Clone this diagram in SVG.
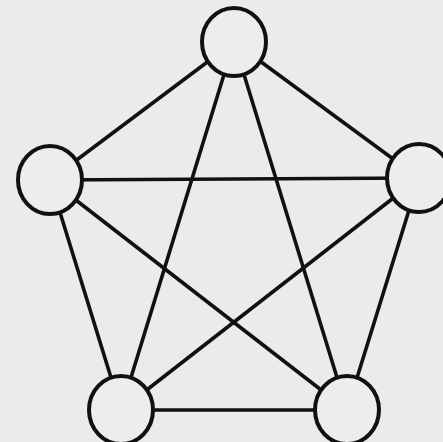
<svg xmlns="http://www.w3.org/2000/svg" width="443" height="442" viewBox="0 0 443 442">
<style>
.edge{stroke:#111;stroke-width:3.6;stroke-linecap:round;fill:none}
.node{fill:#ededeb;stroke:#111;stroke-width:4}
</style>
<rect width="443" height="442" fill="#ebebe9"/>
<g id="connectors">
<line class="edge" x1="234" y1="42" x2="50" y2="180"/>
<line class="edge" x1="234" y1="42" x2="419" y2="178"/>
<line class="edge" x1="234" y1="42" x2="121" y2="410"/>
<line class="edge" x1="234" y1="42" x2="347" y2="410"/>
<line class="edge" x1="50" y1="180" x2="419" y2="178"/>
<line class="edge" x1="50" y1="180" x2="121" y2="410"/>
<line class="edge" x1="50" y1="180" x2="347" y2="410"/>
<line class="edge" x1="419" y1="178" x2="121" y2="410"/>
<line class="edge" x1="419" y1="178" x2="347" y2="410"/>
<line class="edge" x1="121" y1="410" x2="347" y2="410"/>
</g>
<g id="n-top"><ellipse class="node" cx="234" cy="42" rx="32" ry="34"/></g>
<g id="n-left"><ellipse class="node" cx="50" cy="180" rx="32" ry="34"/></g>
<g id="n-right"><ellipse class="node" cx="419" cy="178" rx="32" ry="34"/></g>
<g id="n-bottom-left"><ellipse class="node" cx="121" cy="410" rx="32" ry="34"/></g>
<g id="n-bottom-right"><ellipse class="node" cx="347" cy="410" rx="32" ry="34"/></g>
</svg>
